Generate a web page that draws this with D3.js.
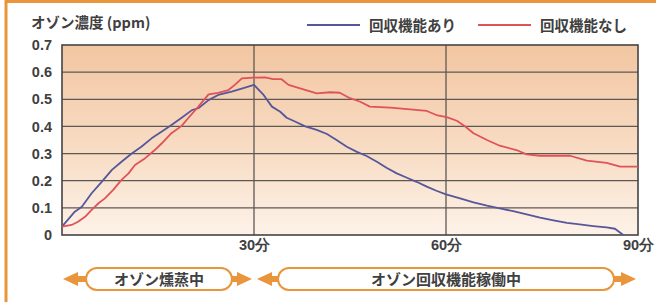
<!DOCTYPE html>
<html>
<head>
<meta charset="utf-8">
<script src="https://cdn.jsdelivr.net/npm/d3@7"></script>
<style>
  body { margin: 0; background: #fff; }
  svg { display: block; font-family: "Noto Sans CJK JP", "Noto Sans", sans-serif; }
</style>
</head>
<body>
<svg id="chart" width="656" height="302"></svg>
<script>
// データ
var yTicks = [0, 0.1, 0.2, 0.3, 0.4, 0.5, 0.6, 0.7];
var yTickLabels = ["0", "0.1", "0.2", "0.3", "0.4", "0.5", "0.6", "0.7"];
var xTicks = [30, 60, 90];
var xTickLabels = ["30分", "60分", "90分"];

var seriesNames = ["回収機能あり", "回収機能なし"];

var blueMinutes = [0, 2, 3.1, 4.6, 6.2, 7.8, 9.3, 10.9, 12.4, 14, 15.6, 17.1, 18.7, 20.3, 21.3, 22.9, 24.4, 26.5, 28.6, 30,
  31.5, 32.8, 34.1, 35.1, 36.4, 38, 39.8, 41.4, 42.9, 44.5, 46, 47.6, 49.2, 50.7, 52.3, 53.9, 55.4, 57, 58.5, 60,
  62.2, 64.3, 66.4, 68.4, 70.5, 72.6, 74.7, 76.8, 78.9, 80.9, 83, 85.1, 86.4, 87.7];
var blueValues = [0.031, 0.086, 0.104, 0.153, 0.196, 0.24, 0.27, 0.3, 0.325, 0.356, 0.381, 0.405, 0.432, 0.46, 0.467, 0.497, 0.516, 0.528, 0.543, 0.553,
  0.516, 0.473, 0.454, 0.432, 0.418, 0.4, 0.387, 0.372, 0.35, 0.325, 0.307, 0.291, 0.27, 0.248, 0.227, 0.211, 0.196, 0.178, 0.163, 0.15,
  0.135, 0.12, 0.108, 0.098, 0.088, 0.076, 0.064, 0.054, 0.045, 0.039, 0.033, 0.028, 0.023, 0];

var redMinutes = [0, 1.5, 2.5, 3.6, 4.6, 5.7, 6.7, 8, 9.3, 10.4, 11.4, 13, 14.5, 15.6, 17.1, 18.7, 19.7, 21.3, 22.9, 24.4, 26, 27, 28.1, 29.8,
  31.7, 33, 34.3, 35.4, 37.2, 39.8, 41.9, 43.4, 45, 46.6, 48.1, 51.3, 54.4, 57, 58.5, 60.1,
  61.7, 63, 64.3, 66.4, 68.4, 71, 72.6, 74.7, 79.4, 82, 85.1, 87.2, 90];
var redValues = [0.031, 0.037, 0.049, 0.067, 0.092, 0.117, 0.135, 0.166, 0.203, 0.227, 0.258, 0.283, 0.313, 0.338, 0.375, 0.402, 0.43, 0.473, 0.518, 0.524, 0.534, 0.553, 0.577, 0.58,
  0.581, 0.574, 0.574, 0.553, 0.54, 0.522, 0.526, 0.524, 0.504, 0.491, 0.473, 0.469, 0.463, 0.457, 0.442, 0.434,
  0.421, 0.4, 0.375, 0.35, 0.329, 0.313, 0.297, 0.292, 0.292, 0.274, 0.266, 0.252, 0.252];

var phaseLabels = ["オゾン燻蒸中", "オゾン回収機能稼働中"];
var phaseStart = [0, 30];
var phaseEnd = [30, 90];

// 色
var orange = "#e8953b";
var blue = "#56579a";
var red = "#e0525a";
var textColor = "#404040";

var svg = d3.select("#chart");

// 外枠（オレンジ）
svg.append("rect")
  .attr("x", 6).attr("y", 1.5)
  .attr("width", 700).attr("height", 400)
  .attr("fill", "#fff")
  .attr("stroke", orange).attr("stroke-width", 3);

var x = d3.scaleLinear().domain([0, 90]).range([62, 638]);
var y = d3.scaleLinear().domain([0, 0.7]).range([235, 45]);

// 背景グラデーション
var grad = svg.append("defs").append("linearGradient")
  .attr("id", "bg").attr("x1", 0).attr("y1", 0).attr("x2", 0).attr("y2", 1);
grad.append("stop").attr("offset", "0%").attr("stop-color", "#f2c6a2");
grad.append("stop").attr("offset", "55%").attr("stop-color", "#f8dcc4");
grad.append("stop").attr("offset", "100%").attr("stop-color", "#fdf2e8");

svg.append("rect")
  .attr("x", x(0)).attr("y", y(0.7))
  .attr("width", x(90) - x(0)).attr("height", y(0) - y(0.7))
  .attr("fill", "url(#bg)");

// 横グリッド
svg.append("g").selectAll("line").data(yTicks.slice(1, -1)).enter()
  .append("line")
  .attr("x1", x(0)).attr("x2", x(90))
  .attr("y1", function(d) { return y(d); })
  .attr("y2", function(d) { return y(d); })
  .attr("stroke", "#5e5854").attr("stroke-width", 1.3);

// 縦グリッド
svg.append("g").selectAll("line").data(xTicks.slice(0, -1)).enter()
  .append("line")
  .attr("x1", function(d) { return x(d); })
  .attr("x2", function(d) { return x(d); })
  .attr("y1", y(0.7)).attr("y2", y(0))
  .attr("stroke", "#5e5854").attr("stroke-width", 1.3);

// 枠
svg.append("rect")
  .attr("x", x(0)).attr("y", y(0.7))
  .attr("width", x(90) - x(0)).attr("height", y(0) - y(0.7))
  .attr("fill", "none").attr("stroke", "#444").attr("stroke-width", 1.6);

// Y軸ラベル
var yAxis = d3.axisLeft(y).tickValues(yTicks)
  .tickFormat(function(d, i) { return yTickLabels[i]; })
  .tickSize(0).tickPadding(10);
var gy = svg.append("g").attr("transform", "translate(" + x(0) + ",0)").call(yAxis);
gy.select(".domain").remove();
gy.selectAll("text")
  .attr("font-size", 14.5).attr("font-weight", "bold")
  .attr("fill", textColor)
  .style("font-family", "'Liberation Sans', Arial, sans-serif");

// X軸ラベル
var xAxis = d3.axisBottom(x).tickValues(xTicks)
  .tickFormat(function(d, i) { return xTickLabels[i]; })
  .tickSize(0).tickPadding(5);
var gx = svg.append("g").attr("transform", "translate(0," + y(0) + ")").call(xAxis);
gx.select(".domain").remove();
gx.selectAll("text")
  .attr("font-size", 14.5).attr("font-weight", "bold")
  .attr("fill", textColor);

// 軸タイトル
svg.append("text")
  .attr("x", 31).attr("y", 28)
  .attr("font-size", 14.5).attr("font-weight", "bold")
  .attr("fill", textColor)
  .text("オゾン濃度 (ppm)");

// 折れ線
var line = d3.line()
  .x(function(d) { return x(d[0]); })
  .y(function(d) { return y(d[1]); });

var blueData = d3.zip(blueMinutes, blueValues);
var redData = d3.zip(redMinutes, redValues);

svg.append("path").datum(blueData)
  .attr("d", line).attr("fill", "none")
  .attr("stroke", blue).attr("stroke-width", 1.8)
  .attr("stroke-linejoin", "round");

svg.append("path").datum(redData)
  .attr("d", line).attr("fill", "none")
  .attr("stroke", red).attr("stroke-width", 1.8)
  .attr("stroke-linejoin", "round");

// 凡例
var legendX = [307, 478];
var legendColors = [blue, red];
var lg = svg.append("g").selectAll("g").data(seriesNames).enter().append("g")
  .attr("transform", function(d, i) { return "translate(" + legendX[i] + ",25)"; });
lg.append("line")
  .attr("x1", 0).attr("x2", 53).attr("y1", 0).attr("y2", 0)
  .attr("stroke", function(d, i) { return legendColors[i]; })
  .attr("stroke-width", 2);
lg.append("text")
  .attr("x", 62).attr("y", 5.5)
  .attr("font-size", 14.5).attr("font-weight", "bold")
  .attr("fill", textColor)
  .text(function(d) { return d; });

// 期間の矢印
var arrowY = 279;
var phases = svg.append("g").selectAll("g").data(phaseLabels).enter().append("g");

function arrowHead(tip, dir) {
  // dir: -1 左向き, 1 右向き
  var back = tip - dir * 15;
  var end = tip - dir * 24;
  return "M" + tip + "," + arrowY +
    "L" + back + "," + (arrowY - 7) +
    "L" + back + "," + (arrowY - 3) +
    "L" + end + "," + (arrowY - 3) +
    "L" + end + "," + (arrowY + 3) +
    "L" + back + "," + (arrowY + 3) +
    "L" + back + "," + (arrowY + 7) + "Z";
}

phases.append("path")
  .attr("d", function(d, i) { return arrowHead(x(phaseStart[i]) + (i == 0 ? 1 : 3), -1); })
  .attr("fill", orange);
phases.append("path")
  .attr("d", function(d, i) { return arrowHead(x(phaseEnd[i]) - 2, 1); })
  .attr("fill", orange);

phases.append("rect")
  .attr("x", function(d, i) { return x(phaseStart[i]) + 24; })
  .attr("y", arrowY - 11)
  .attr("width", function(d, i) { return x(phaseEnd[i]) - x(phaseStart[i]) - (i == 0 ? 46 : 48); })
  .attr("height", 22)
  .attr("rx", 11)
  .attr("fill", "#fff")
  .attr("stroke", orange).attr("stroke-width", 2);

phases.append("text")
  .attr("x", function(d, i) { return (x(phaseStart[i]) + x(phaseEnd[i])) / 2 + (i == 0 ? 1 : 0); })
  .attr("y", arrowY + 5.5)
  .attr("text-anchor", "middle")
  .attr("font-size", 15).attr("font-weight", "bold")
  .attr("fill", textColor)
  .text(function(d) { return d; });
</script>
</body>
</html>
